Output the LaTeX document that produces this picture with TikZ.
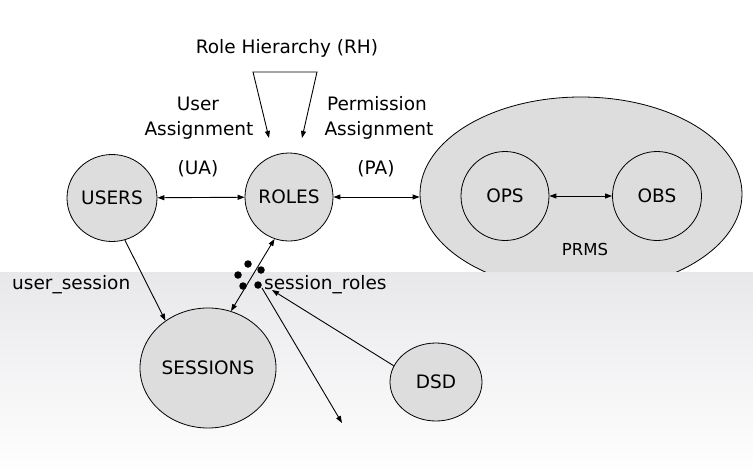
\documentclass[tikz,border=0pt]{standalone}
\usepackage{fontspec}
\setmainfont{DejaVu Sans}
\usetikzlibrary{shapes.geometric,arrows.meta}
\definecolor{nodefill}{RGB}{221,221,221}
\definecolor{bandtop}{RGB}{232,232,235}
\begin{document}
\begin{tikzpicture}[x=1pt,y=-1pt,
  every node/.style={font=\fontsize{18.5}{25}\selectfont, inner sep=0pt},
  blob/.style={ellipse, draw, line width=0.8pt, fill=nodefill},
  lbl/.style={align=center},
  conn/.style={line width=0.9pt},
  tip/.style={-{Triangle[length=7pt,width=5pt]}},
  both/.style={{Triangle[length=7pt,width=5pt]}-{Triangle[length=7pt,width=5pt]}},
  dot/.style={circle, fill=black, minimum size=7.5pt, inner sep=0pt}
]
\useasboundingbox (0,0) rectangle (753,474);
\fill[white] (0,0) rectangle (753,474);

% PRMS big ellipse (partly hidden by the band)
\node[blob, minimum width=322pt, minimum height=194pt] (PRMS) at (581,194) {};

% gradient band
\shade[top color=bandtop, bottom color=white] (0,272) rectangle (753,474);

% nodes
\node[blob, minimum width=90pt, minimum height=87pt] (USERS) at (112,198) {USERS};
\node[blob, minimum width=88pt, minimum height=88pt] (ROLES) at (289,197) {ROLES};
\node[blob, minimum width=88pt, minimum height=89pt] (OPS) at (505,196) {OPS};
\node[blob, minimum width=89pt, minimum height=89pt] (OBS) at (657,196) {OBS};
\node[blob, minimum width=136pt, minimum height=120pt] (SESSIONS) at (208,368) {SESSIONS};
\node[blob, minimum width=92pt, minimum height=78pt] (DSD) at (436,382) {DSD};

\node (PRMSlbl) at (585,249.5) {\fontsize{16.5}{20}\selectfont PRMS};

% labels
\node[anchor=base] (RH) at (287,53) {Role Hierarchy (RH)};
\node[anchor=base] (UAa) at (198,110) {User};
\node[anchor=base] (UAb) at (199,135) {Assignment};
\node[anchor=base] (UAc) at (198,174) {(UA)};
\node[anchor=base] (PAa) at (377,110) {Permission};
\node[anchor=base] (PAb) at (379,135) {Assignment};
\node[anchor=base] (PAc) at (376,174) {(PA)};
\node[anchor=base west] (US) at (12,289) {user\_session};
\node[anchor=base west] (SR) at (264,289) {session\_roles};

% dots
\node[dot] (d1) at (248,264) {};
\node[dot] (d2) at (238,275) {};
\node[dot] (d3) at (261,270) {};
\node[dot] (d4) at (243,286) {};
\node[dot] (d5) at (258,285) {};

% free-end coordinates
\coordinate (rhA) at (269,138);
\coordinate (rhB) at (253,72);
\coordinate (rhC) at (317,72);
\coordinate (rhD) at (302,138);
\coordinate (srStart) at (262,288);
\coordinate (srEnd) at (342,423);
\coordinate (dsdEnd) at (272,290);

% connectors
\draw[conn, both] (USERS) -- (ROLES);
\draw[conn, both] (ROLES.east) -- (ROLES.east -| PRMS.west);
\draw[conn, both] (OPS) -- (OBS);
\draw[conn, both] (rhA) -- (rhB) -- (rhC) -- (rhD);
\draw[conn, tip] (USERS.-73) -- (SESSIONS.132);
\draw[conn, both] (SESSIONS.68) -- (ROLES.-109);
\draw[conn, tip] (srStart) -- (srEnd);
\draw[conn, tip] (DSD.159) -- (dsdEnd);
\end{tikzpicture}
\end{document}
